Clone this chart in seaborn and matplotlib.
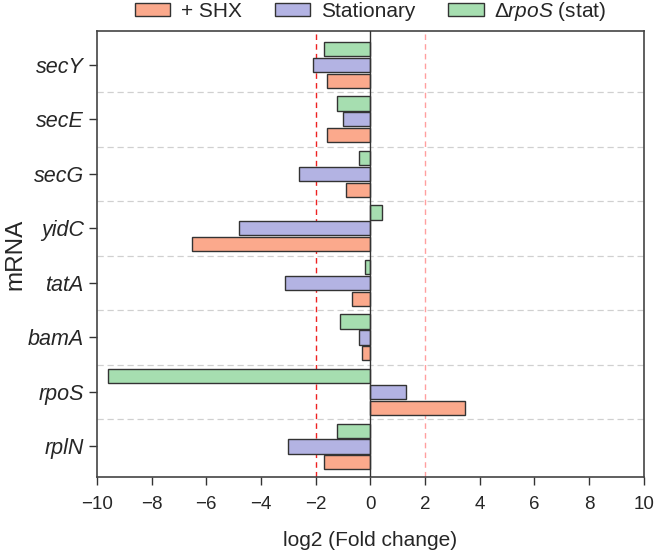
import pandas as pd
import matplotlib
matplotlib.use("Agg")
from matplotlib import pyplot as plt
import seaborn as sns

genes = ["secY", "secE", "secG", "yidC", "tatA", "bamA", "rpoS", "rplN"]
shx = [-1.60, -1.60, -0.90, -6.52, -0.69, -0.30, 3.47, -1.71]
stationary = [-2.11, -1.00, -2.61, -4.82, -3.11, -0.40, 1.30, -3.00]
rpos_stat = [-1.71, -1.22, -0.40, 0.41, -0.20, -1.11, -9.60, -1.23]

lab_shx = "+ SHX"
lab_stat = "Stationary"
lab_rpos = r"$\Delta$$\it{rpoS}$ (stat)"


def main():
    sns.set_style("white")
    plt.rcParams["font.family"] = ["Liberation Sans", "DejaVu Sans"]
    plt.rcParams["mathtext.fontset"] = "custom"
    plt.rcParams["mathtext.rm"] = "Liberation Sans"
    plt.rcParams["mathtext.it"] = "Liberation Sans:italic"

    data = pd.DataFrame({
        "gene": genes * 3,
        "value": shx + stationary + rpos_stat,
        "cond": [lab_shx] * 8 + [lab_stat] * 8 + [lab_rpos] * 8,
    })
    palette = {lab_shx: "#fba98c", lab_stat: "#b3b3e3", lab_rpos: "#a6deb0"}

    fig = plt.figure(figsize=(6.57, 5.54), dpi=100)
    ax = fig.add_axes([0.1476, 0.139, 0.8324, 0.805])

    ax.axvline(-2, color="#ee2222", ls=(0, (4, 3)), lw=1, zorder=1)
    ax.axvline(2, color="#ff7777", ls=(0, (4, 3)), lw=1, alpha=0.7, zorder=1)
    for i in range(len(genes) - 1):
        ax.axhline(i + 0.5, color="#d0d0d0", ls=(0, (5, 3)), lw=0.9, zorder=1)

    sns.barplot(data=data, x="value", y="gene", hue="cond",
                hue_order=[lab_rpos, lab_stat, lab_shx], palette=palette,
                saturation=1, orient="h", width=0.87, gap=0.1,
                edgecolor="#333333", linewidth=1, ax=ax, zorder=2)
    ax.axvline(0, color="#333333", lw=1, zorder=3)

    ax.set_xlim(-10, 10)
    ax.set_ylim(7.56, -0.62)
    ax.set_xticks(range(-10, 11, 2))
    ax.set_xticklabels([str(t).replace("-", "\u2212") for t in range(-10, 11, 2)])
    ax.tick_params(axis="both", which="major", direction="out", length=6,
                   width=1, color="#333333", labelsize=13.5, left=True, bottom=True)
    ax.tick_params(axis="x", pad=8)
    for t in ax.get_yticklabels():
        t.set_fontstyle("italic")
        t.set_fontsize(15.5)
    ax.set_xlabel("log2 (Fold change)", fontsize=15, labelpad=13)
    ax.set_ylabel("mRNA", fontsize=17.5, labelpad=1)
    for s in ax.spines.values():
        s.set_color("#444444")
        s.set_linewidth(1.2)

    handles, labels = ax.get_legend_handles_labels()
    order = [labels.index(l) for l in [lab_shx, lab_stat, lab_rpos]]
    ax.legend([handles[i] for i in order], [labels[i] for i in order],
              loc="lower center", bbox_to_anchor=(0.5, 0.995), ncol=3,
              frameon=False, fontsize=15, handlelength=1.7, handleheight=0.55,
              columnspacing=1.6, handletextpad=0.5, borderaxespad=0.1)

    fig.savefig("out.png", dpi=100)


if __name__ == '__main__':
    main()
